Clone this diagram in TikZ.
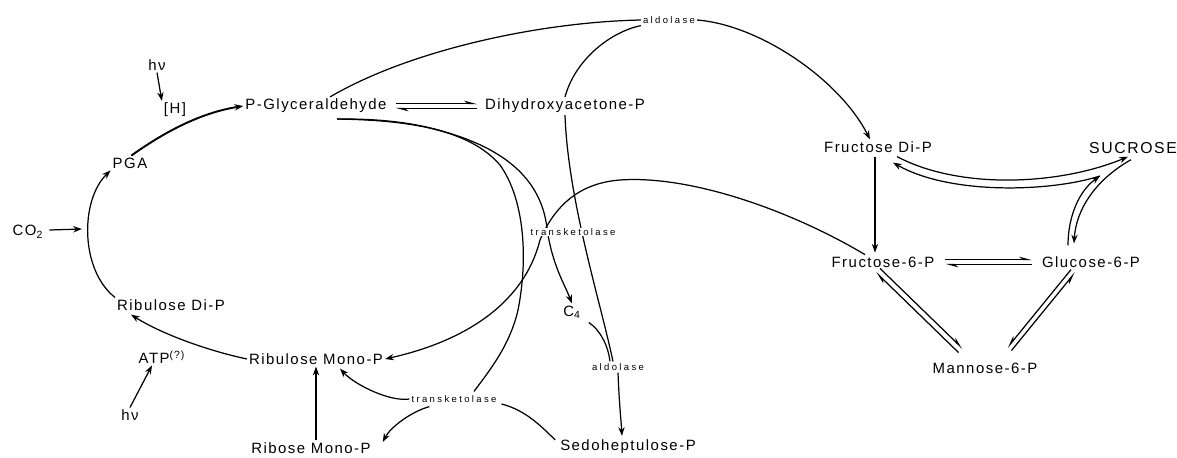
\documentclass[tikz,border=0pt]{standalone}
\usepackage{fontspec}
\setmainfont{Liberation Sans}[LetterSpace=10]
\newfontfamily\enzfont{Liberation Sans}[LetterSpace=25]
\usetikzlibrary{arrows.meta,calc}
\tikzset{
  lbl/.style={font=\fontsize{8.5}{9}\selectfont, inner sep=1pt},
  enz/.style={font=\enzfont\fontsize{5.4}{6}\selectfont, inner sep=1pt},
  ln/.style={line width=0.7pt},
  ar/.style={ln, -{Stealth[length=5pt,width=3.6pt]}},
  hp/.style={ln, -{Stealth[harpoon,length=6pt,width=3.2pt]}},
  hps/.style={ln, -{Stealth[harpoon,swap,length=6pt,width=3.2pt]}}
}
\begin{document}
\begin{tikzpicture}[x=0.02cm,y=-0.02cm]
\useasboundingbox (0,0) rectangle (1177,457);
% nodes
\node[lbl] (hv1) at (157,65) {hν};
\node[lbl] (H) at (175,110) {[H]};
\node[lbl] (PGly) at (316,106) {P-Glyceraldehyde};
\node[lbl] (DHAP) at (565,106) {Dihydroxyacetone-P};
\node[enz] (ald1) at (669,20) {aldolase};
\node[lbl] (FDP) at (878,147) {Fructose Di-P};
\node[lbl,font=\fontsize{9}{10}\selectfont] (SUC) at (1133,148) {SUCROSE};
\node[lbl] (PGA) at (130,163) {PGA};
\node[lbl] (CO2) at (28,232) {CO\textsubscript{2}};
\node[lbl] (F6P) at (883,262) {Fructose-6-P};
\node[lbl] (G6P) at (1091,262) {Glucose-6-P};
\node[lbl] (RuDP) at (171,305) {Ribulose Di-P};
\node[lbl] (C4) at (572,312) {C\textsubscript{4}};
\node[lbl] (ATP) at (162,357) {ATP\textsuperscript{(?)}};
\node[lbl] (RuMP) at (316,359) {Ribulose Mono-P};
\node[enz] (ald2) at (618,367) {aldolase};
\node[lbl] (M6P) at (985,368) {Mannose-6-P};
\node[lbl] (hv2) at (130,415) {hν};
\node[enz] (tk2) at (454,399) {transketolase};
\node[lbl] (RMP) at (311,448) {Ribose Mono-P};
\node[lbl] (SHP) at (628,447) {Sedoheptulose-P};
\coordinate (co2end) at (82,229);
\coordinate (J) at (1100,176);

% Calvin cycle left part
\draw[ar] (hv1.south) -- (H.north west);
\draw[ar,line width=1.1pt] (PGA.80) .. controls (170,128) and (205,112) .. (PGly.west);
\draw[ar] (RuDP.north west) .. controls (80,270) and (80,200) .. (PGA.south west);
\draw[ar] (CO2.east) ++(4,-2) -- (co2end);
\draw[ar] (RuMP.west) .. controls (205,350) and (160,333) .. ($(RuDP.south)+(-40,2)$);
\draw[ar] (hv2.north) -- ($(ATP.south)+(-10,0)$);
\draw[ar,line width=0.6pt] (RuMP.south |- RMP.north) -- (RuMP.south);

% P-Gly <-> DHAP
\draw[hp] ($(PGly.east)+(7,-2.5)$) -- ($(DHAP.west)+(-6,-2.5)$);
\draw[hp] ($(DHAP.west)+(-6,2.5)$) -- ($(PGly.east)+(7,2.5)$);

% aldolase (top)
\draw[ln] ($(PGly.north)+(14,0)$) .. controls (410,50) and (540,22) .. (ald1.west);
\draw[ln] (ald1.south west) .. controls (610,32) and (575,60) .. (DHAP.north);
\draw[ar] (ald1.east) .. controls (760,25) and (840,80) .. ($(FDP.north)+(-8,0)$);

% P-Gly to transketolase (lower) and to C4
\draw[ln] ($(PGly.south)+(21,4)$) .. controls (410,120) and (470,130) .. (500,165)
  .. controls (525,200) and (528,260) .. (518,310)
  .. controls (510,345) and (490,370) .. ($(tk2.north)+(20,-2)$);
\draw[ar] ($(PGly.south)+(21,4)$) .. controls (373.5,118.5) and (406.75,121.75) .. (434.6,129)
  .. controls (490.4,143.5) and (540,170) .. (547,228)
  .. controls (552,265) and (565,285) .. (C4.north);

% Fructose-6-P back to Ribulose Mono-P
\draw[ar] ($(F6P.north)+(-18,0)$) .. controls (790,210) and (690,175) .. (620,180)
  .. controls (580,183) and (555,205) .. (540,240)
  .. controls (525,300) and (470,340) .. (RuMP.east);

% DHAP / C4 to lower aldolase, to sedoheptulose
\draw[ln] (DHAP.south) .. controls (568,200) and (600,300) .. ($(ald2.north)+(-5,0)$);
\draw[ln] ($(C4.south east)+(6,2)$) .. controls (600,330) and (608,345) .. ($(ald2.north)+(-8,0)$);
\draw[ar] (ald2.south) .. controls (619,400) and (621,420) .. ($(SHP.north)+(-6,-2)$);

% lower transketolase
\draw[ln] ($(SHP.north west)+(-3,2)$) .. controls (540,425) and (525,410) .. ($(tk2.east)+(3,5)$);
\draw[ar] (tk2.west) .. controls (390,402) and (355,385) .. ($(RuMP.south)+(24,2)$);
\draw[ar] ($(tk2.south west)+(20,2)$) .. controls (410,412) and (390,428) .. ($(RMP.east)+(10,-6)$);

% hexose part
\draw[ar,line width=0.6pt] ($(FDP.south)+(-3,2)$) -- ($(F6P.north)+(-8,-2)$);
\draw[hp] ($(F6P.east)+(9,-2.5)$) -- ($(G6P.west)+(-8,-2.5)$);
\draw[hp] ($(G6P.west)+(-8,2.5)$) -- ($(F6P.east)+(9,2.5)$);
\draw[hp] ($(F6P.south)+(-3,-1)$) -- ($(M6P.north west)+(32,-12)$);
\draw[hp] ($(M6P.north west)+(28,-8)$) -- ($(F6P.south)+(-7,3)$);
\draw[hps] ($(M6P.north east)+(-28,-10)$) -- ($(G6P.south)+(-16,3)$);
\draw[hps] ($(G6P.south)+(-20,0)$) -- ($(M6P.north east)+(-32,-13)$);
\draw[ar] ($(FDP.south)+(19,2)$) .. controls (960,190) and (1060,185) .. ($(SUC.south)+(-5,1)$);
\draw[ar] (J) .. controls (1050,192) and (950,195) .. ($(FDP.south)+(15,8)$);
\draw[ar] ($(G6P.north)+(-23,-9)$) .. controls (1068,215) and (1080,190) .. (J);
\draw[ar] ($(SUC.south)+(-2,4)$) .. controls (1095,180) and (1076,210) .. ($(G6P.north)+(-17,-11)$);

% middle transketolase label on top of crossing lines
\node[enz,fill=white,inner sep=0.5pt] (tk1) at (573,232) {transketolase};
\end{tikzpicture}
\end{document}
